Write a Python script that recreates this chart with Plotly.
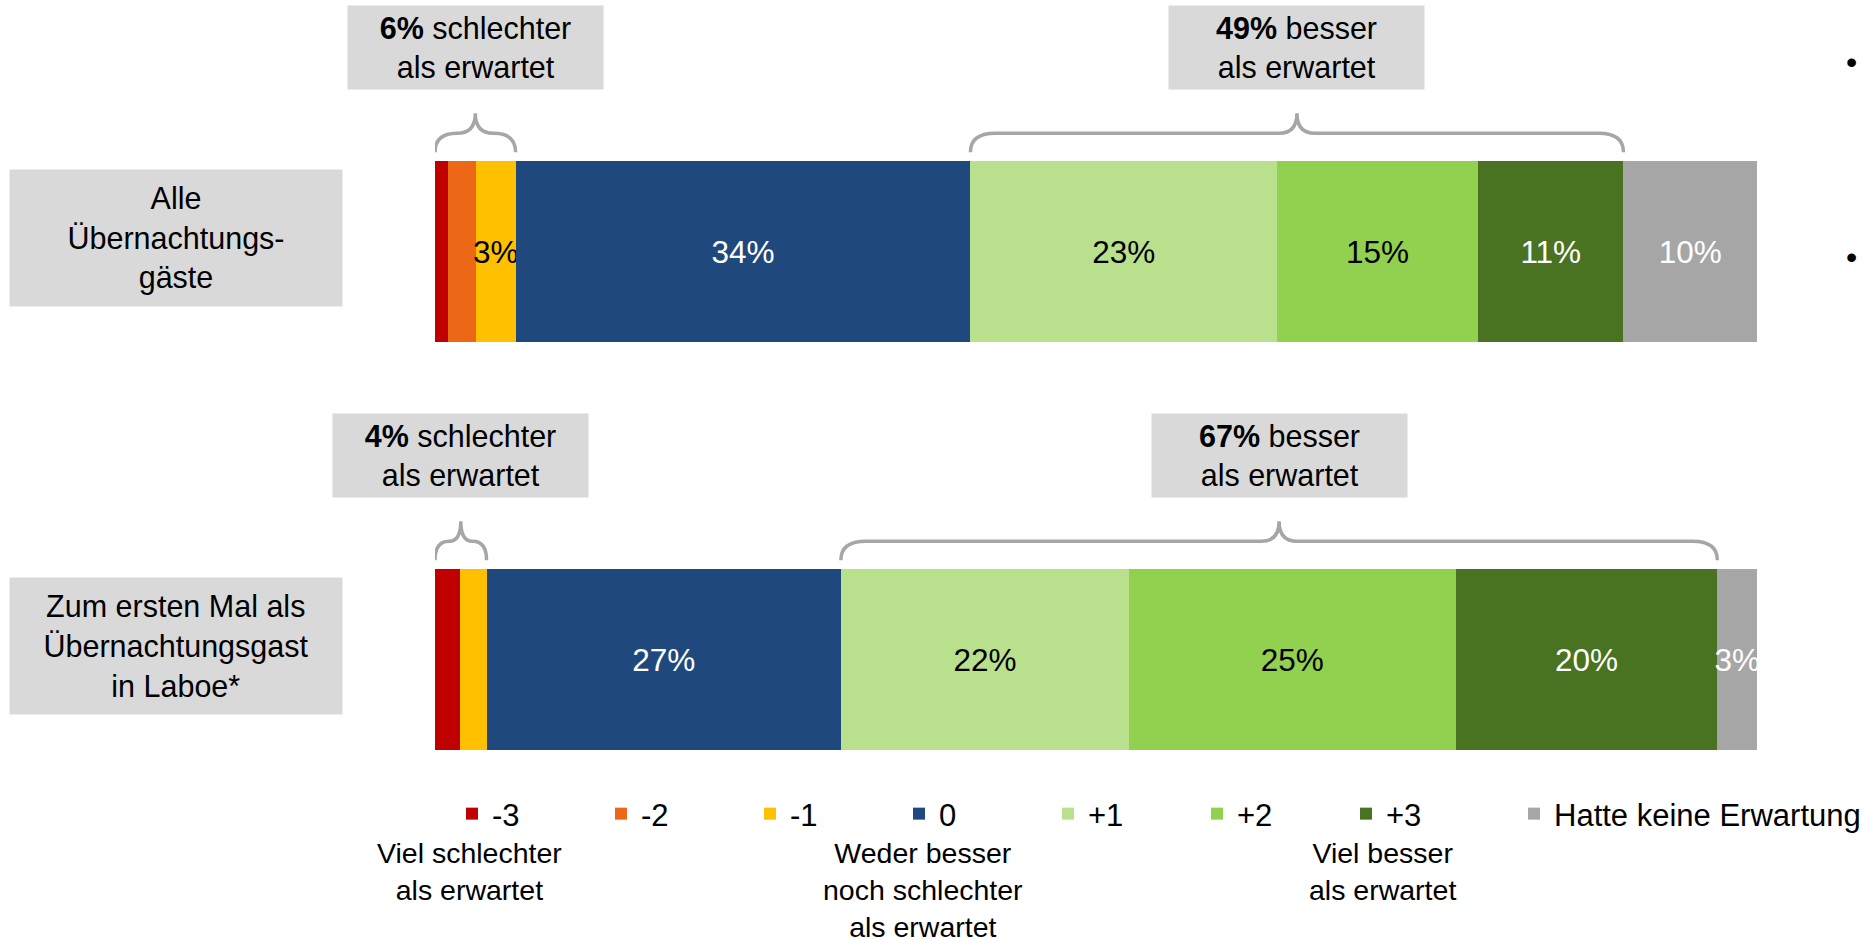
"""Erwartungen vs. Erlebnis - gestapelte Balken (Plotly)."""

import plotly.graph_objects as go

# ---------------------------------------------------------------------------
# Data (shares in %, one value per row)
# ---------------------------------------------------------------------------

ROWS = [
    "Alle<br>Übernachtungs-<br>gäste",
    "Zum ersten Mal als<br>Übernachtungsgast<br>in Laboe*",
]

SCALE = ["-3", "-2", "-1", "0", "+1", "+2", "+3", "Hatte keine Erwartung"]

SHARE_M3 = [1.0, 1.9]
SHARE_M2 = [2.1, 0.0]
SHARE_M1 = [3.0, 2.0]
SHARE_0 = [34.4, 26.8]
SHARE_P1 = [23.2, 21.8]
SHARE_P2 = [15.2, 24.7]
SHARE_P3 = [11.0, 19.8]
SHARE_NONE = [10.1, 3.0]

WORSE = [6, 4]     # "schlechter als erwartet"
BETTER = [49, 67]  # "besser als erwartet"

SCALE_NOTES = {
    "-3": "Viel schlechter<br>als erwartet",
    "0": "Weder besser<br>noch schlechter<br>als erwartet",
    "+3": "Viel besser<br>als erwartet",
}

# ---------------------------------------------------------------------------
# Styling
# ---------------------------------------------------------------------------

W, H = 1867, 940
FONT = "Liberation Sans, Arial, sans-serif"
FS_BAR = 31.5
FS_BOX = 30.5
FS_LEG = 31
FS_NOTE = 28.5

COLOURS = ["#c00000", "#ec6817", "#ffc000", "#1f497d",
           "#b9e08c", "#92d050", "#4a7321", "#a6a6a6"]
TEXT_COLOURS = ["white", "black", "black", "white",
                "black", "black", "white", "white"]
BOX_GREY = "#d9d9d9"
BRACE_GREY = "#a6a6a6"

X_LEFT, X_RIGHT = 435, 1757       # plot area in px
PLOT_TOP, ROW_PX = 47.8, 408      # px, px per row
BAR_PX = 181


def px(x):
    return x / W


def py(y):
    return 1 - y / H


def bar_top(i):
    return PLOT_TOP + ROW_PX * (i + 0.5) - BAR_PX / 2


UNIT = (X_RIGHT - X_LEFT) / 100.0  # px per percent


def brace_path(x0, x1, y_end, y_flat, y_tip):
    xm = (x0 + x1) / 2
    half = (x1 - x0) / 2 * UNIT
    r_end = min(25, half * 0.55) / UNIT
    r_tip = min(18, half * 0.45) / UNIT
    return (
        f"M{x0},{y_end} Q{x0},{y_flat} {x0 + r_end},{y_flat} "
        f"L{xm - r_tip},{y_flat} Q{xm},{y_flat} {xm},{y_tip} "
        f"Q{xm},{y_flat} {xm + r_tip},{y_flat} "
        f"L{x1 - r_end},{y_flat} Q{x1},{y_flat} {x1},{y_end}"
    )


series = [SHARE_M3, SHARE_M2, SHARE_M1, SHARE_0,
          SHARE_P1, SHARE_P2, SHARE_P3, SHARE_NONE]

fig = go.Figure()
for k, (name, vals, col, tcol) in enumerate(zip(SCALE, series, COLOURS, TEXT_COLOURS)):
    fig.add_trace(go.Bar(
        y=list(range(len(ROWS))),
        x=vals,
        orientation="h",
        name=name,
        legend="legend2" if k == len(SCALE) - 1 else "legend",
        marker=dict(color=col, line=dict(width=0)),
        text=[f"{round(v)}%" if v >= 2.5 else "" for v in vals],
        textposition="inside",
        insidetextanchor="middle",
        constraintext="none",
        textangle=0,
        textfont=dict(color=tcol, size=FS_BAR, family=FONT),
        hoverinfo="skip",
    ))

annotations = []
shapes = []

for i, row in enumerate(ROWS):
    # row label box
    annotations.append(dict(
        x=px(176), xref="paper", xanchor="center",
        y=i, yref="y", yshift=14,
        text=row, showarrow=False, width=332, height=136,
        bgcolor=BOX_GREY, borderpad=0, align="center",
        font=dict(size=FS_BOX, color="black", family=FONT),
    ))

    neg = SHARE_M3[i] + SHARE_M2[i] + SHARE_M1[i]
    zero_end = neg + SHARE_0[i]
    pos_end = zero_end + SHARE_P1[i] + SHARE_P2[i] + SHARE_P3[i]

    top = bar_top(i)
    y_tip, y_flat, y_end = py(top - 48), py(top - 28), py(top - 9)

    for (a, b), txt in (
        ((0, neg), f"<b>{WORSE[i]}%</b> schlechter<br>als erwartet"),
        ((zero_end, pos_end), f"<b>{BETTER[i]}%</b> besser<br>als erwartet"),
    ):
        shapes.append(dict(
            type="path", xref="x", yref="paper",
            path=brace_path(a, b, y_end, y_flat, y_tip),
            line=dict(color=BRACE_GREY, width=3.5),
        ))
        annotations.append(dict(
            x=(a + b) / 2, xref="x", xanchor="center",
            y=py(top - 71), yref="paper", yanchor="bottom",
            text=txt, showarrow=False,
            width=255, height=83, bgcolor=BOX_GREY, borderpad=0,
            font=dict(size=FS_BOX, color="black", family=FONT),
        ))

# notes under the legend
note_x = {"-3": 469, "0": 923, "+3": 1382}
for key, txt in SCALE_NOTES.items():
    annotations.append(dict(
        x=px(note_x[key]), xref="paper", xanchor="center",
        y=py(835), yref="paper", yanchor="top",
        text=txt, showarrow=False, align="center",
        font=dict(size=FS_NOTE, color="black", family=FONT),
    ))

# cut-off bullet points of the slide text on the right
for yb in (42, 237):
    annotations.append(dict(
        x=px(1851), xref="paper", xanchor="center",
        y=py(yb), yref="paper",
        text="•", showarrow=False,
        font=dict(size=32, color="black", family=FONT),
    ))

legend_common = dict(
    orientation="h", xref="container", yref="container",
    y=py(814), yanchor="middle",
    font=dict(size=FS_LEG, family=FONT, color="black"),
    bgcolor="rgba(0,0,0,0)", traceorder="normal",
)

fig.update_layout(
    width=W, height=H,
    barmode="stack",
    bargap=1 - BAR_PX / ROW_PX,
    plot_bgcolor="white", paper_bgcolor="white",
    margin=dict(l=0, r=0, t=0, b=0, autoexpand=False),
    font=dict(family=FONT, size=FS_BOX, color="black"),
    xaxis=dict(range=[0, 100], domain=[px(X_LEFT), px(X_RIGHT)],
               visible=False, fixedrange=True),
    yaxis=dict(range=[len(ROWS) - 0.5, -0.5],
               domain=[py(PLOT_TOP + ROW_PX * len(ROWS)), py(PLOT_TOP)],
               visible=False, fixedrange=True),
    legend=dict(x=px(452), xanchor="left",
                entrywidth=104, entrywidthmode="pixels", **legend_common),
    legend2=dict(x=px(1514), xanchor="left", **legend_common),
    showlegend=True,
    annotations=annotations,
    shapes=shapes,
)

fig.write_html(
    "out.html",
    config={"displayModeBar": False},
    post_script="document.body.style.margin='0';",
)
